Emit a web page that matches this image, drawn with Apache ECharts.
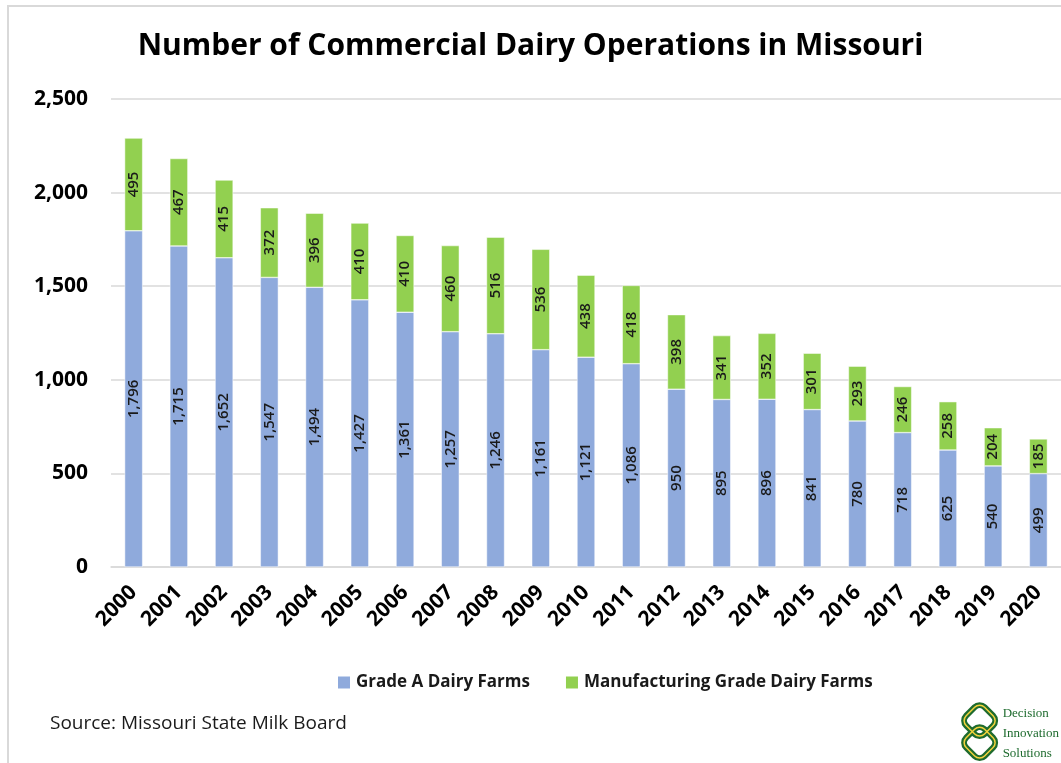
<!DOCTYPE html>
<html>
<head>
<meta charset="utf-8">
<script src="https://cdn.jsdelivr.net/npm/echarts@6/dist/echarts.min.js"></script>
<style>
  html, body { margin: 0; padding: 0; background: #fff; }
  #chart { width: 1061px; height: 763px; }
</style>
</head>
<body>
<div id="chart"></div>
<script>
const years = ['2000', '2001', '2002', '2003', '2004', '2005', '2006', '2007', '2008', '2009', '2010',
  '2011', '2012', '2013', '2014', '2015', '2016', '2017', '2018', '2019', '2020'];
const gradeA = [1796, 1715, 1652, 1547, 1494, 1427, 1361, 1257, 1246, 1161, 1121,
  1086, 950, 895, 896, 841, 780, 718, 625, 540, 499];
const manufacturing = [495, 467, 415, 372, 396, 410, 410, 460, 516, 536, 438,
  418, 398, 341, 352, 301, 293, 246, 258, 204, 185];
const yTicks = [0, 500, 1000, 1500, 2000, 2500];

const FONT = "'Open Sans', sans-serif";
const fmt = v => v.toLocaleString('en-US');

const chart = echarts.init(document.getElementById('chart'));

const label = {
  show: true,
  rotate: 90,
  position: 'inside',
  color: '#1a1a1a',
  fontFamily: FONT,
  fontSize: 15,
  fontWeight: 600,
  formatter: p => fmt(p.value)
};

chart.setOption({
  backgroundColor: '#fff',
  animation: false,
  title: {
    text: 'Number of Commercial Dairy Operations in Missouri',
    left: 'center',
    top: 26,
    textStyle: { fontFamily: FONT, fontSize: 30, fontWeight: 'bold', color: '#000' }
  },
  legend: {
    top: 669,
    left: 331,
    itemWidth: 14,
    itemHeight: 14,
    itemGap: 34,
    icon: 'rect',
    textStyle: { fontFamily: FONT, fontSize: 17, fontWeight: 'bold', color: '#1a1a1a' },
    data: ['Grade A Dairy Farms', 'Manufacturing Grade Dairy Farms']
  },
  grid: { left: 111, right: -4, top: 99, bottom: 196 },
  xAxis: {
    type: 'category',
    data: years,
    axisLine: { lineStyle: { color: '#d9d9d9', width: 1.5 } },
    axisTick: { show: false },
    axisLabel: {
      rotate: 45,
      interval: 0,
      margin: 22,
      fontFamily: FONT,
      fontSize: 21,
      fontWeight: 'bold',
      color: '#000'
    }
  },
  yAxis: {
    type: 'value',
    min: 0,
    max: 2500,
    interval: 500,
    axisLine: { show: false },
    axisTick: { show: false },
    splitLine: { lineStyle: { color: '#d9d9d9', width: 1.5 } },
    axisLabel: {
      margin: 23,
      fontFamily: FONT,
      fontSize: 21,
      fontWeight: 'bold',
      color: '#000',
      formatter: v => yTicks.includes(v) ? fmt(v) : ''
    }
  },
  series: [
    {
      name: 'Grade A Dairy Farms',
      type: 'bar',
      stack: 'total',
      barWidth: 18,
      itemStyle: { color: '#8faadc', borderColor: '#fff', borderWidth: 0.5 },
      label: label,
      data: gradeA
    },
    {
      name: 'Manufacturing Grade Dairy Farms',
      type: 'bar',
      stack: 'total',
      barWidth: 18,
      itemStyle: { color: '#92d050', borderColor: '#fff', borderWidth: 0.5 },
      label: label,
      data: manufacturing
    }
  ],
  graphic: [
    {
      type: 'rect',
      shape: { x: 8, y: 6, width: 1060, height: 780 },
      style: { fill: 'none', stroke: '#d9d9d9', lineWidth: 2 },
      silent: true
    },
    {
      type: 'text',
      left: 50,
      top: 714,
      style: { text: 'Source: Missouri State Milk Board', font: "19px 'Open Sans', sans-serif", fill: '#1a1a1a' }
    },
    {
      type: 'group',
      left: 957,
      top: 698,
      children: [
        { type: 'rect', shape: { x: 8, y: 6, width: 26, height: 26, r: 7 }, rotation: Math.PI / 4, originX: 21, originY: 19,
          style: { fill: 'none', stroke: '#1e6b2e', lineWidth: 6 } },
        { type: 'rect', shape: { x: 8, y: 28, width: 26, height: 26, r: 7 }, rotation: Math.PI / 4, originX: 21, originY: 41,
          style: { fill: 'none', stroke: '#1e6b2e', lineWidth: 6 } },
        { type: 'rect', shape: { x: 8, y: 6, width: 26, height: 26, r: 7 }, rotation: Math.PI / 4, originX: 21, originY: 19,
          style: { fill: 'none', stroke: '#f2d33c', lineWidth: 1.5 } },
        { type: 'rect', shape: { x: 8, y: 28, width: 26, height: 26, r: 7 }, rotation: Math.PI / 4, originX: 21, originY: 41,
          style: { fill: 'none', stroke: '#f2d33c', lineWidth: 1.5 } },
        { type: 'text', x: 44, y: 2,
          style: { text: 'Decision\nInnovation\nSolutions', font: "13px 'Liberation Serif', serif", fill: '#1e6b2e', lineHeight: 20 } }
      ]
    }
  ]
});
</script>
</body>
</html>
